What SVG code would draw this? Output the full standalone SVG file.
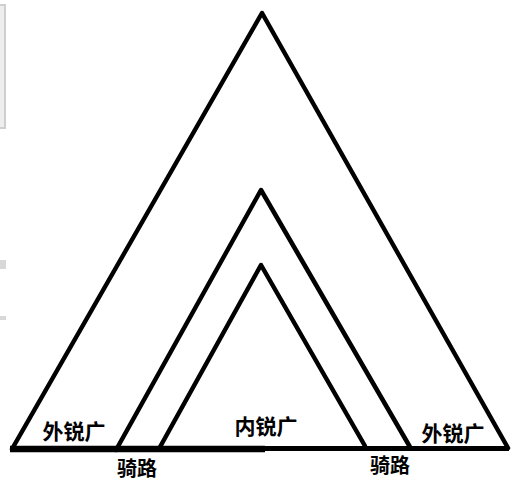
<svg xmlns="http://www.w3.org/2000/svg" width="511" height="482" viewBox="0 0 511 482">
<style>
.ln{stroke:#000;stroke-width:4.5;fill:none;stroke-linecap:round;stroke-linejoin:round}
.t{font-family:"Noto Sans CJK SC","Noto Sans",sans-serif;font-weight:bold;font-size:21px;fill:#000;text-anchor:middle;dominant-baseline:central}
.s{font-size:20px}
</style>
<rect width="511" height="482" fill="#fff"/>
<g id="side-marks">
<rect x="-1" y="5" width="6" height="123" fill="#eeeeee" stroke="#cfcfcf" stroke-width="2"/>
<rect x="0" y="260" width="6" height="9" fill="#d8d8d8"/>
<rect x="0" y="316" width="6" height="4" fill="#d8d8d8"/>
</g>
<g id="connectors">
<polyline id="outer" class="ln" points="12,449 262,13 508,448"/>
<polyline id="middle" class="ln" points="116,450 261,190 410,447"/>
<polyline id="inner" class="ln" points="160,447 261,265 365,446"/>
<line id="base-left" x1="10" y1="449" x2="265" y2="449" stroke="#000" stroke-width="6.5"/>
<line id="base-right" x1="265" y1="448.5" x2="509" y2="448.5" stroke="#000" stroke-width="5"/>
</g>
<g id="label-outer-left"><text class="t" x="74" y="429.5">外锐广</text></g>
<g id="label-ride-left"><text class="t s" x="137" y="467">骑路</text></g>
<g id="label-inner"><text class="t" x="266" y="425">内锐广</text></g>
<g id="label-ride-right"><text class="t s" x="390" y="464">骑路</text></g>
<g id="label-outer-right"><text class="t" x="453" y="432">外锐广</text></g>
</svg>
